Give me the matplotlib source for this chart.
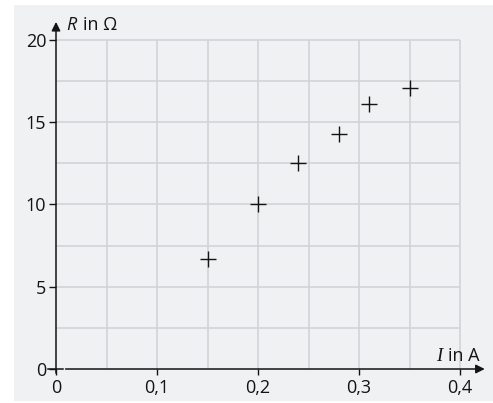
import numpy as np
import matplotlib
matplotlib.use("Agg")
import matplotlib.pyplot as plt
from matplotlib.patches import Rectangle

# Messwerte: Stromstaerke I in A, Widerstand R in Ohm
current = [0.15, 0.20, 0.24, 0.28, 0.31, 0.35]
resistance = [6.7, 10.0, 12.5, 14.3, 16.1, 17.1]

x_ticks = [0, 0.1, 0.2, 0.3, 0.4]
x_labels = ["0", "0,1", "0,2", "0,3", "0,4"]
y_ticks = [0, 5, 10, 15, 20]
y_labels = ["0", "5", "10", "15", "20"]

plt.rcParams['font.family'] = ['Open Sans', 'DejaVu Sans']

W, H = 493, 403
fig = plt.figure(figsize=(W / 100, H / 100), dpi=100)
fig.patch.set_facecolor("white")
# grauer Hintergrund
fig.patches.append(Rectangle((14 / W, 2 / H), 1 - 14 / W, 396 / H,
                             transform=fig.transFigure, facecolor="#f0f1f3",
                             edgecolor="none", zorder=-5))

x0, y0 = 56, 369           # Pixel des Ursprungs
sx, sy = 1010, 16.45       # Pixel pro Einheit
xmax, ymax = 0.4245, 21.1
ax = fig.add_axes([x0 / W, (H - y0) / H, xmax * sx / W, ymax * sy / H])
ax.set_xlim(0, xmax)
ax.set_ylim(0, ymax)
ax.patch.set_alpha(0)
for s in ax.spines.values():
    s.set_visible(False)

# Gitter
grid_c = "#d3d4d7"
ax.vlines(np.arange(0.05, 0.401, 0.05), 0, 20, color=grid_c, lw=1.2, zorder=1)
ax.hlines(np.arange(2.5, 20.01, 2.5), 0, 0.4, color=grid_c, lw=1.2, zorder=1)

# Achsen mit Pfeilen
ink = "#141414"
ax.annotate("", xy=(xmax, 0), xytext=(0.0095, 0),
            arrowprops=dict(arrowstyle="-|>", color=ink, lw=1.1,
                            mutation_scale=13, shrinkA=0, shrinkB=0),
            annotation_clip=False, zorder=3)
ax.annotate("", xy=(0, ymax), xytext=(0, -0.25),
            arrowprops=dict(arrowstyle="-|>", color=ink, lw=1.1,
                            mutation_scale=13, shrinkA=0, shrinkB=0),
            annotation_clip=False, zorder=3)
ax.plot([-0.008, 0.007], [0, 0], color=ink, lw=1.1, clip_on=False, zorder=3)

ax.set_xticks(x_ticks, x_labels)
ax.set_yticks(y_ticks, y_labels)
ax.tick_params(axis="x", direction="out", length=4.5, width=1.0, pad=3,
               labelsize=13, color=ink, labelcolor=ink)
ax.tick_params(axis="y", direction="out", length=5, width=1.0, pad=2,
               labelsize=13, color=ink, labelcolor=ink)

# Messpunkte
ax.plot(current, resistance, linestyle="none", marker="+", markersize=11,
        markeredgewidth=1.0, color=ink, zorder=4, clip_on=False)

# Achsenbeschriftungen
ax.text(0.0098, 20.9, "R", fontsize=13, style="italic", color=ink,
        ha="left", va="center")
ax.text(0.0265, 20.9, "in Ω", fontsize=13, color=ink,
        ha="left", va="center")
ax.text(0.4198, 0.5, "in A", fontsize=13, color=ink,
        ha="right", va="baseline")
ax.text(0.3825, 0.5, "I", fontsize=13.5, family="Liberation Serif",
        style="italic", color=ink, ha="right", va="baseline")

fig.savefig("out.png", dpi=100, facecolor="white")
